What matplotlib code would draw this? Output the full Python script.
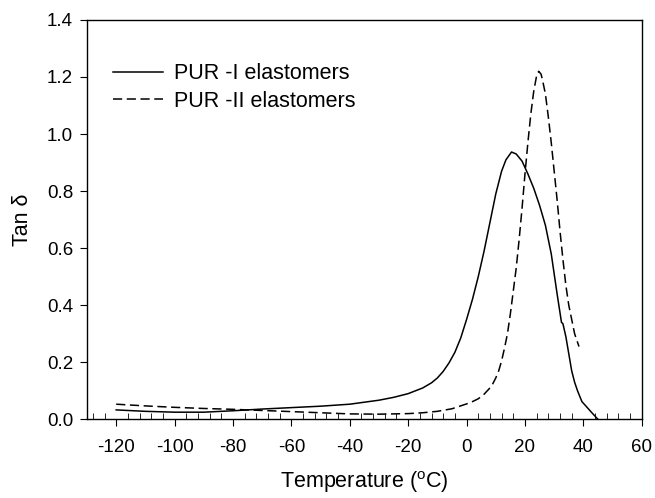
import numpy as np
import matplotlib
matplotlib.use("Agg")
import matplotlib.pyplot as plt
from matplotlib.ticker import MultipleLocator

plt.rcParams['font.family'] = ['Liberation Sans', 'DejaVu Sans']
plt.rcParams['mathtext.fontset'] = 'custom'
plt.rcParams['mathtext.rm'] = 'Liberation Sans'

# PUR-I elastomers (solid)
temp1 = [-120, -110, -100, -90, -80, -70, -60, -50, -40, -30, -25, -20, -15,
         -12, -10, -8, -6, -4, -2, 0, 2, 4, 6, 8, 10, 12, 13.5, 15.4, 17, 19,
         21, 23, 25, 27, 29, 30, 31, 32.5, 33, 34, 35, 36, 37, 38, 39.5, 41,
         43, 45]
tan1 = [0.033, 0.028, 0.025, 0.025, 0.030, 0.036, 0.041, 0.046, 0.053, 0.067,
        0.077, 0.090, 0.110, 0.128, 0.145, 0.168, 0.198, 0.235, 0.285, 0.35,
        0.42, 0.50, 0.59, 0.69, 0.79, 0.87, 0.91, 0.937, 0.93, 0.905, 0.86,
        0.81, 0.75, 0.68, 0.58, 0.51, 0.44, 0.34, 0.335, 0.29, 0.23, 0.17,
        0.13, 0.10, 0.062, 0.045, 0.022, 0.0]

# PUR-II elastomers (dashed)
temp2 = [-120, -110, -100, -90, -80, -70, -60, -50, -40, -30, -20, -15, -10,
         -5, 0, 2, 4, 6, 8, 9, 10, 11, 12, 13, 14, 15, 16, 17, 18, 19, 20, 21,
         22, 23, 24, 24.7, 25.5, 26, 27, 28, 29, 30, 31, 32, 33, 34, 35, 36,
         37, 38.5]
tan2 = [0.053, 0.047, 0.042, 0.038, 0.035, 0.031, 0.027, 0.023, 0.019, 0.018,
        0.020, 0.023, 0.028, 0.037, 0.054, 0.062, 0.072, 0.088, 0.110, 0.125,
        0.145, 0.17, 0.205, 0.25, 0.30, 0.37, 0.45, 0.53, 0.63, 0.74, 0.86,
        0.97, 1.07, 1.15, 1.205, 1.22, 1.21, 1.19, 1.14, 1.06, 0.97, 0.87,
        0.77, 0.66, 0.56, 0.47, 0.40, 0.35, 0.30, 0.255]

xticks = [-120, -100, -80, -60, -40, -20, 0, 20, 40, 60]
yticks = [0.0, 0.2, 0.4, 0.6, 0.8, 1.0, 1.2, 1.4]

fig = plt.figure(figsize=(6.55, 4.98), dpi=100)
ax = fig.add_axes([0.1328, 0.158, 0.847, 0.802])

ax.plot(temp1, tan1, color='black', lw=1.1, label='PUR -I elastomers')
ax.plot(temp2, tan2, color='black', lw=1.1, dashes=(6, 3),
        label='PUR -II elastomers')

ax.set_xlim(-130, 60)
ax.set_ylim(0, 1.4)
ax.set_xticks(xticks)
ax.set_yticks(yticks)
ax.set_xticklabels([str(t) for t in xticks])
ax.set_yticklabels(['%.1f' % t for t in yticks])
ax.xaxis.set_minor_locator(MultipleLocator(4))
ax.tick_params(axis='x', which='major', direction='out', length=5,
               labelsize=13.5, pad=9)
ax.tick_params(axis='x', which='minor', direction='in', length=4)
ax.tick_params(axis='y', which='major', direction='out', length=5,
               labelsize=13.5, pad=5)
for s in ax.spines.values():
    s.set_linewidth(1.0)

ax.set_xlabel('Temperature ($^{\\rm o}$C)', fontsize=15.5, labelpad=10)
ax.set_ylabel('Tan δ', fontsize=15.5, labelpad=10)

ax.legend(loc='upper left', bbox_to_anchor=(0.012, 0.94), frameon=False,
          fontsize=15.5, handlelength=2.3, handletextpad=0.55,
          labelspacing=0.3)

fig.savefig('out.png', dpi=100)
